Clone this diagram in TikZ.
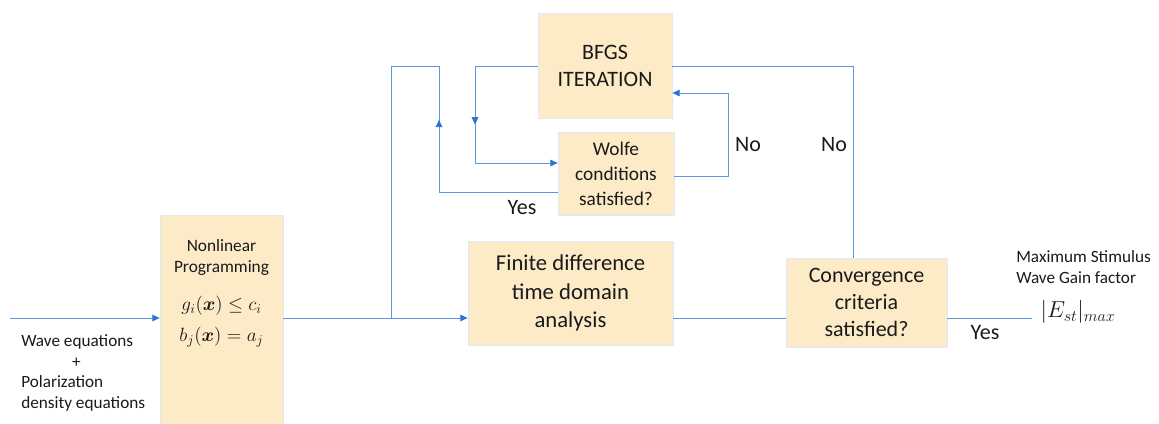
\documentclass[tikz,border=0pt]{standalone}
\usepackage{amsmath}
\usepackage{fontspec}
\setmainfont{Carlito}
\usetikzlibrary{arrows.meta,decorations.markings}
\definecolor{boxfill}{HTML}{FDEBC8}
\definecolor{boxedge}{HTML}{DCEAF8}
\definecolor{flow}{HTML}{5C98DE}
\definecolor{tip}{HTML}{2E74D0}
\definecolor{ink}{HTML}{1A1A1A}
\tikzset{
	block/.style={draw=boxedge,fill=boxfill,line width=0.6pt,align=center,inner sep=0pt,text=ink},
	flowline/.style={color=flow,line width=0.65pt},
	flowarrow/.style={flowline,-{Triangle[length=5.5pt,width=5pt,color=tip]}},
	midarrow/.style={postaction={decorate},decoration={markings,mark=at position #1 with {\arrow[tip]{Triangle[length=5.5pt,width=5pt]}}}},
	lbl/.style={text=ink,font=\fontsize{16.5}{20}\selectfont},
	note/.style={text=ink,align=left,inner sep=0pt,font=\fontsize{12.9}{15.5}\selectfont}
}
\begin{document}
\begin{tikzpicture}[x=0.75pt,y=-0.75pt]
	\useasboundingbox (0,0) rectangle (1159,424);
	\node[block,minimum width=92.25pt,minimum height=161.25pt] (nlp) at (221.5,322.5) {};
	\node[text=ink,align=center,font=\fontsize{13}{15.75}\selectfont] (nlptitle) at (221.5,257.5) {Nonlinear\\Programming};
	\node[text=ink,align=center,font=\fontsize{14}{23}\selectfont] (nlpmath) at (221.5,321.5) {$g_i(\boldsymbol{x})\leq c_i$\\$b_j(\boldsymbol{x})=a_j$};
	\node[block,minimum width=100.5pt,minimum height=78.75pt,font=\fontsize{16.5}{20.25}\selectfont] (bfgs) at (605,65.5) {BFGS\\ITERATION};
	\node[block,minimum width=87pt,minimum height=62.25pt,font=\fontsize{14.5}{18.75}\selectfont] (wolfe) at (616,173.5) {Wolfe\\conditions\\satisfied?};
	\node[block,minimum width=153.75pt,minimum height=78pt,font=\fontsize{17}{21.4}\selectfont] (fdtd) at (570.5,293) {Finite difference\\time domain\\analysis};
	\node[block,minimum width=120.75pt,minimum height=66.75pt,font=\fontsize{16.5}{20.25}\selectfont] (conv) at (866.5,302.5) {Convergence\\criteria\\satisfied?};
	\node[note,anchor=west] (input) at (21,373) {Wave equations\\\hspace*{2.95em}+\\Polarization\\density equations};
	\node[note,anchor=west] (gain) at (1016,267) {Maximum Stimulus\\Wave Gain factor};
	\node[text=ink,font=\fontsize{17}{20}\selectfont] (emax) at (1078,312) {$|E_{st}|_{max}$};
	\coordinate (in) at (10,318);
	\coordinate (branch) at (391,318);
	\coordinate (join) at (439,66);
	\coordinate (out) at (1032,318);
	\draw[flowarrow] (in) -- (in -| nlp.west);
	\draw[flowline] (nlp.east |- branch) -- (branch);
	\draw[flowarrow] (branch) -- (branch -| fdtd.west);
	\draw[flowline] (branch) |- (join);
	\draw[flowline,midarrow=0.78] (wolfe.west |- 0,192) -| (join);
	\draw[flowarrow,midarrow=0.5] (bfgs.west |- 0,66) -| (475,163) -- (wolfe.west |- 0,163);
	\draw[flowarrow] (wolfe.east |- 0,176) -| (728,93) -- (bfgs.east |- 0,93);
	\draw[flowline] (bfgs.east |- 0,66) -| (conv.north -| 853,0);
	\draw[flowline] (fdtd.east |- out) -- (conv.west |- out);
	\draw[flowline] (conv.east |- out) -- (out);
	\node[lbl] (yeswolfe) at (522,208) {Yes};
	\node[lbl] (nowolfe) at (748,145) {No};
	\node[lbl] (noconv) at (834,145) {No};
	\node[lbl] (yesconv) at (985,333) {Yes};
\end{tikzpicture}
\end{document}
